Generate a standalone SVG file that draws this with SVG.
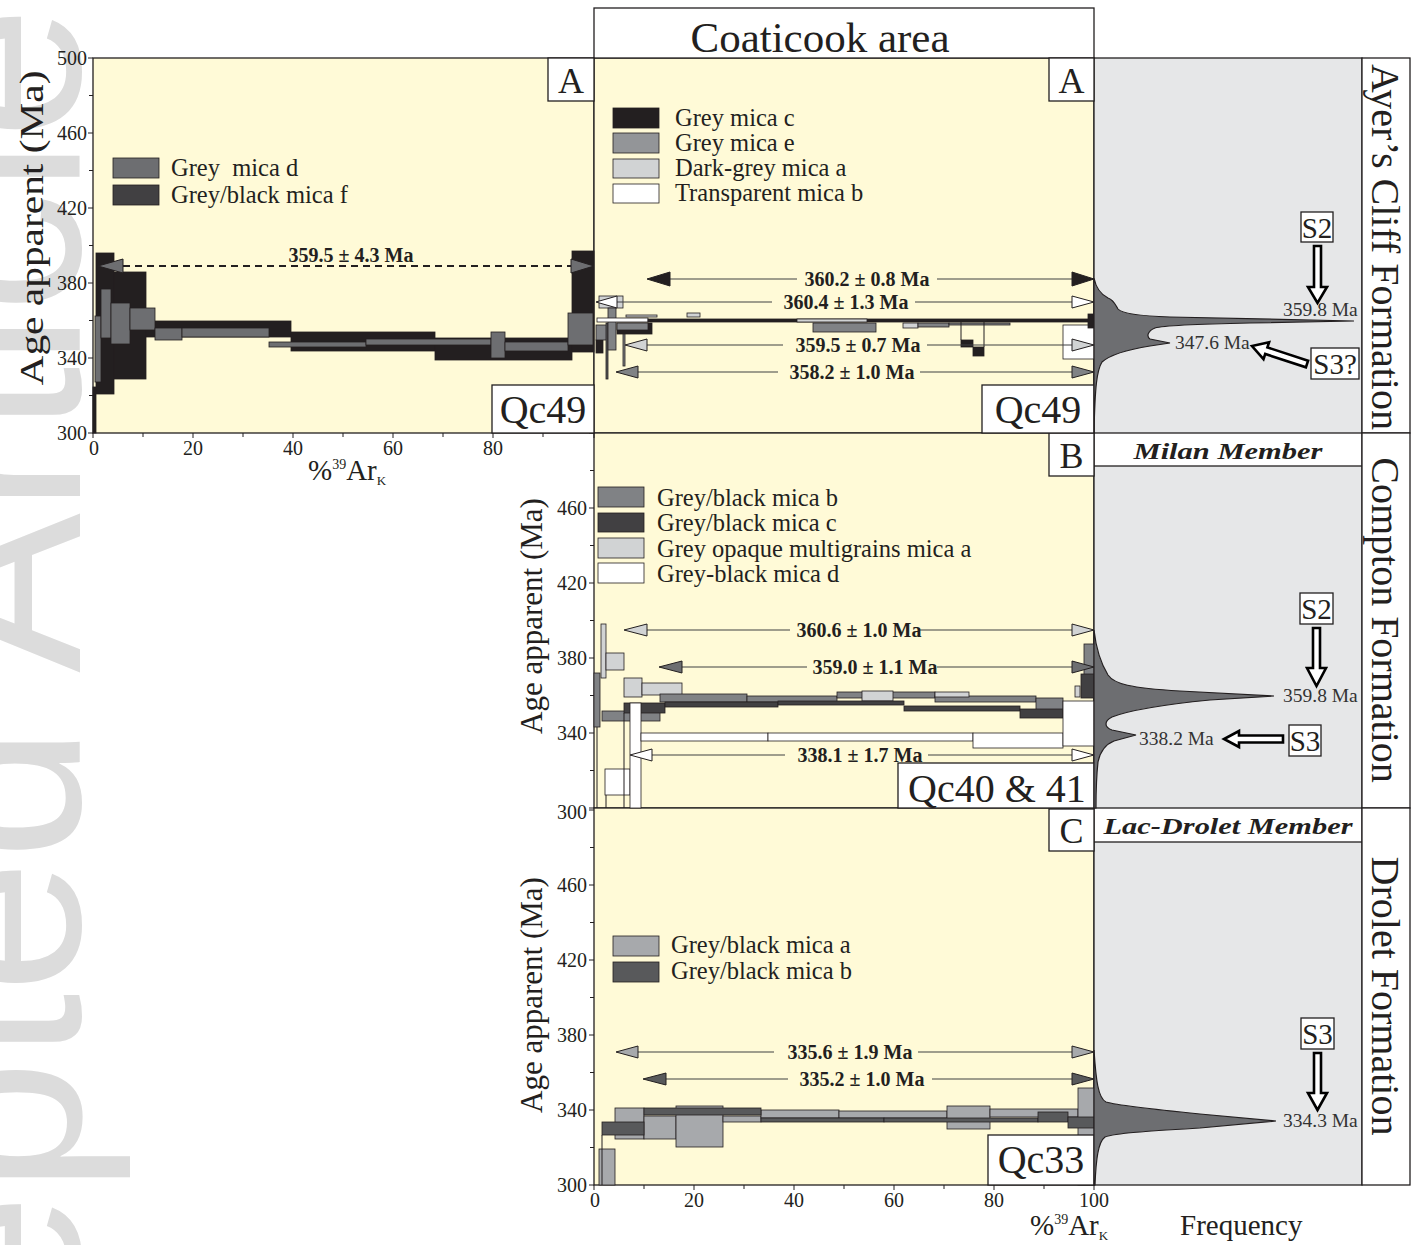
<svg xmlns="http://www.w3.org/2000/svg" width="1419" height="1245" viewBox="0 0 1419 1245">
<style>
.t{font-family:"Liberation Serif","Times New Roman",serif;fill:#231f20}
.lg{font-size:24.5px}
.ax{font-size:20px}
.axr{font-size:20px;text-anchor:end}
.axm{font-size:20px;text-anchor:middle}
.pl{font-size:20px;font-weight:bold;text-anchor:middle}
.big{font-size:40px;text-anchor:middle}
.let{font-size:36px;text-anchor:middle}
.fm{font-size:40px;text-anchor:middle}
.mem{font-size:23px;font-weight:bold;font-style:italic;text-anchor:middle}
.pk{font-size:19.5px;fill:#333}
.sb{font-size:29px;text-anchor:middle}
.frame{fill:none;stroke:#231f20;stroke-width:1.3}
.bg{fill:#fffad7;stroke:#231f20;stroke-width:1.3}
.wbox{fill:#fff;stroke:#231f20;stroke-width:1.3}
.bar rect{stroke:#231f20;stroke-width:0.8}
.k{fill:#231f20}.d4{fill:#414042}.g6{fill:#6d6e71}.g8{fill:#808285}.g9{fill:#939598}.g5{fill:#58595b}.ga{fill:#a7a9ac}.gl{fill:#d1d3d4}.w{fill:#fff}
.ln{stroke:#414042;stroke-width:1.2;fill:none}
.hd{stroke:#231f20;stroke-width:1}
.tick{stroke:#231f20;stroke-width:1}
.curve{fill:#6d6e71;stroke:#231f20;stroke-width:1.2}
.harrow{fill:#fff;stroke:#000;stroke-width:2.6;stroke-linejoin:miter}
</style>

<!-- watermark -->
<text transform="translate(80,1727) rotate(-90)" style="font-family:'Liberation Sans',Arial,sans-serif;font-size:240px;fill:#dcdcdc">Accepted Article</text>

<!-- frames / backgrounds -->
<g id="frames">
<rect class="bg" x="93" y="58" width="501" height="375"/>
<rect class="bg" x="594" y="58" width="500" height="375"/>
<rect class="bg" x="594" y="433" width="500" height="375"/>
<rect class="bg" x="594" y="808" width="500" height="377"/>
<rect x="1094" y="58" width="268" height="1127" fill="#e6e7e8" stroke="#231f20" stroke-width="1.3"/>
<rect class="wbox" x="1094" y="433" width="268" height="33"/>
<rect class="wbox" x="1094" y="808" width="268" height="34"/>
<rect class="wbox" x="1362" y="58" width="48" height="375"/>
<rect class="wbox" x="1362" y="433" width="48" height="375"/>
<rect class="wbox" x="1362" y="808" width="48" height="377"/>
<rect class="wbox" x="594" y="8" width="500" height="50"/>
</g>

<g id="header"><text class="t" x="820" y="52" style="font-size:43px;text-anchor:middle">Coaticook area</text></g>

<!-- axes ticks -->
<g id="axes">
<path class="tick" d="M93,58h-5M93,95.5h-4M93,133h-5M93,170.5h-4M93,208h-5M93,245.5h-4M93,283h-5M93,320.5h-4M93,358h-5M93,395.5h-4M93,433h-5"/>
<path class="tick" d="M93,433v5M143,433v4M193,433v5M243,433v4M293,433v5M343,433v4M393,433v5M443,433v4M493,433v5M543,433v4M594,433v5"/>
<path class="tick" d="M594,433h-5M594,470.5h-4M594,508h-5M594,545.5h-4M594,583h-5M594,620.5h-4M594,658h-5M594,695.5h-4M594,733h-5M594,770.5h-4M594,808h-5"/>
<path class="tick" d="M594,810h-5M594,847.5h-4M594,885h-5M594,922.5h-4M594,960h-5M594,997.5h-4M594,1035h-5M594,1072.5h-4M594,1110h-5M594,1147.5h-4M594,1185h-5"/>
<path class="tick" d="M594,1185v5M644,1185v4M694,1185v5M744,1185v4M794,1185v5M844,1185v4M894,1185v5M944,1185v4M994,1185v5M1044,1185v4M1094,1185v5"/>
<g class="t">
<text class="axr" x="87" y="65">500</text><text class="axr" x="87" y="140">460</text><text class="axr" x="87" y="215">420</text><text class="axr" x="87" y="290">380</text><text class="axr" x="87" y="365">340</text><text class="axr" x="87" y="440">300</text>
<text class="axm" x="94" y="455">0</text><text class="axm" x="193" y="455">20</text><text class="axm" x="293" y="455">40</text><text class="axm" x="393" y="455">60</text><text class="axm" x="493" y="455">80</text>
<text class="axr" x="587" y="515">460</text><text class="axr" x="587" y="590">420</text><text class="axr" x="587" y="665">380</text><text class="axr" x="587" y="740">340</text><text class="axr" x="587" y="819">300</text>
<text class="axr" x="587" y="892">460</text><text class="axr" x="587" y="967">420</text><text class="axr" x="587" y="1042">380</text><text class="axr" x="587" y="1117">340</text><text class="axr" x="587" y="1192">300</text>
<text class="axm" x="595" y="1207">0</text><text class="axm" x="694" y="1207">20</text><text class="axm" x="794" y="1207">40</text><text class="axm" x="894" y="1207">60</text><text class="axm" x="994" y="1207">80</text><text class="axm" x="1094" y="1207">100</text>
<text transform="translate(43,228) rotate(-90)" style="font-size:34px;text-anchor:middle" textLength="315" lengthAdjust="spacingAndGlyphs">Age apparent (Ma)</text>
<text transform="translate(542,616) rotate(-90)" style="font-size:31px;text-anchor:middle">Age apparent (Ma)</text>
<text transform="translate(542,995) rotate(-90)" style="font-size:31px;text-anchor:middle">Age apparent (Ma)</text>
<text x="308" y="480" style="font-size:29px">%<tspan dy="-11" style="font-size:14px">39</tspan><tspan dy="11">Ar</tspan><tspan dy="5" style="font-size:13px">K</tspan></text>
<text x="1030" y="1235" style="font-size:29px">%<tspan dy="-11" style="font-size:14px">39</tspan><tspan dy="11">Ar</tspan><tspan dy="5" style="font-size:13px">K</tspan></text>
<text x="1180" y="1235" style="font-size:29px">Frequency</text>
</g>
</g>

<!-- left panel A data -->
<g id="data-left-A" class="bar">
<rect class="k" x="93" y="387" width="3" height="46"/>
<rect class="k" x="96" y="253" width="18" height="141"/>
<rect class="k" x="114" y="272" width="32" height="107"/>
<rect class="k" x="146" y="321" width="145" height="16"/>
<rect class="k" x="291" y="332" width="144" height="19"/>
<rect class="k" x="435" y="338" width="137" height="22"/>
<rect class="k" x="572" y="251" width="22" height="101"/>
<rect class="g6" x="95" y="316" width="6" height="66"/>
<rect class="g6" x="101" y="289" width="10" height="49"/>
<rect class="g6" x="111" y="303" width="19" height="41"/>
<rect class="g6" x="130" y="308" width="25" height="22"/>
<rect class="g6" x="155" y="328" width="27" height="12"/>
<rect class="g6" x="182" y="328" width="87" height="9"/>
<rect class="g6" x="269" y="342" width="97" height="5"/>
<rect class="g6" x="366" y="339" width="125" height="6"/>
<rect class="g6" x="491" y="332" width="14" height="26"/>
<rect class="g6" x="505" y="342" width="63" height="9"/>
<rect class="g6" x="568" y="313" width="25" height="32"/>
</g>

<!-- mid panel A data -->
<g id="data-mid-A" class="bar">
<rect class="k" x="596" y="340" width="7" height="13"/>
<rect class="g8" x="596" y="325" width="11" height="15"/>
<rect class="gl" x="599" y="296" width="24" height="12"/>
<rect class="g5" x="606" y="323" width="2" height="56"/>
<rect class="g8" x="608" y="308" width="8" height="42"/>
<rect class="g8" x="623" y="330" width="2" height="36"/>
<rect class="k" x="617" y="323" width="35" height="11"/>
<rect class="g8" x="617" y="323" width="31" height="7"/>
<rect class="w" x="597" y="318" width="51" height="4"/>
<rect class="gl" x="626" y="315" width="31" height="2"/>
<rect class="gl" x="687" y="313" width="13" height="4"/>
<rect class="k" x="648" y="319" width="446" height="3"/>
<rect class="gl" x="797" y="319" width="70" height="3"/>
<rect class="g8" x="813" y="323" width="63" height="9"/>
<rect class="gl" x="903" y="323" width="15" height="5"/>
<rect class="g8" x="918" y="323" width="31" height="4"/>
<rect class="g8" x="949" y="323" width="61" height="2"/>
<rect class="k" x="961" y="340" width="12" height="7"/>
<rect class="k" x="973" y="347" width="11" height="9"/>
<rect class="w" x="1063" y="325" width="31" height="34"/>
<rect class="k" x="1088" y="314" width="6" height="14"/>
<path class="tick" d="M961,322V340M984,322V347"/>
</g>

<!-- panel B data -->
<g id="data-B" class="bar">
<rect class="g8" x="594" y="673" width="6" height="54"/>
<rect class="gl" x="601" y="624" width="5" height="54"/>
<rect class="gl" x="606" y="653" width="18" height="17"/>
<rect class="gl" x="624" y="678" width="18" height="19"/>
<rect class="gl" x="642" y="683" width="40" height="12"/>
<rect class="g8" x="602" y="711" width="58" height="10"/>
<rect class="g8" x="660" y="694" width="87" height="8"/>
<rect class="g8" x="747" y="696" width="90" height="6"/>
<rect class="g8" x="837" y="692" width="98" height="6"/>
<rect class="gl" x="862" y="691" width="31" height="10"/>
<rect class="g8" x="935" y="696" width="101" height="6"/>
<rect class="gl" x="935" y="692" width="34" height="5"/>
<rect class="g8" x="1036" y="698" width="27" height="12"/>
<rect class="gl" x="1075" y="686" width="5" height="11"/>
<rect class="g8" x="1084" y="644" width="10" height="31"/>
<rect class="d4" x="624" y="703" width="41" height="10"/>
<rect class="d4" x="665" y="702" width="113" height="5"/>
<rect class="d4" x="778" y="701" width="126" height="4"/>
<rect class="d4" x="904" y="706" width="116" height="5"/>
<rect class="d4" x="1020" y="709" width="43" height="9"/>
<rect class="d4" x="1081" y="674" width="13" height="24"/>
<rect class="w" x="605" y="769" width="25" height="26"/>
<rect class="w" x="630" y="703" width="11" height="105"/>
<rect class="w" x="641" y="733" width="127" height="8"/>
<rect class="w" x="768" y="733" width="205" height="8"/>
<rect class="w" x="973" y="733" width="90" height="15"/>
<rect class="w" x="1063" y="701" width="31" height="45"/>
<path class="tick" d="M597,727V808M624,713V808M606,795V808"/>
</g>

<!-- panel C data -->
<g id="data-C" class="bar">
<rect class="ga" x="599" y="1149" width="16" height="36"/>
<rect class="ga" x="615" y="1108" width="29" height="31"/>
<rect class="ga" x="644" y="1116" width="32" height="23"/>
<rect class="ga" x="676" y="1106" width="47" height="41"/>
<rect class="ga" x="723" y="1116" width="38" height="6"/>
<rect class="ga" x="761" y="1110" width="78" height="8"/>
<rect class="ga" x="839" y="1111" width="108" height="7"/>
<rect class="ga" x="947" y="1106" width="43" height="23"/>
<rect class="ga" x="990" y="1109" width="88" height="8"/>
<rect class="ga" x="1078" y="1088" width="16" height="97"/>
<rect class="g5" x="602" y="1122" width="42" height="13"/>
<rect class="g5" x="644" y="1108" width="117" height="7"/>
<rect class="g5" x="761" y="1118" width="123" height="4"/>
<rect class="g5" x="884" y="1118" width="154" height="4"/>
<rect class="g5" x="1038" y="1112" width="30" height="10"/>
<rect class="g5" x="1068" y="1117" width="26" height="11"/>
<path class="tick" d="M602,1135V1185"/>
</g>

<!-- plateau arrows -->
<g id="connectors">
<path d="M123,266H571" stroke="#231f20" stroke-width="2" stroke-dasharray="7,5" fill="none"/>
<polygon class="hd g6" points="98,266 123,259 123,273"/>
<polygon class="hd g6" points="594,266 571,259 571,273"/>

<path class="ln" d="M670,279H797M937,279H1072"/>
<polygon class="hd k" points="647,279 670,272 670,286"/><polygon class="hd k" points="1094,279 1072,272 1072,286"/>
<path class="ln" d="M617,302H772M915,302H1072"/>
<polygon class="hd w" points="596,302 617,296 617,308"/><polygon class="hd w" points="1094,302 1072,296 1072,308"/>
<path class="ln" d="M647,345H783M927,345H1072"/>
<polygon class="hd gl" points="625,345 647,339 647,351"/><polygon class="hd gl" points="1094,345 1072,339 1072,351"/>
<path class="ln" d="M638,372H778M920,372H1072"/>
<polygon class="hd g8" points="616,372 638,366 638,378"/><polygon class="hd g8" points="1094,372 1072,366 1072,378"/>

<path class="ln" d="M647,630H790M920,630H1072"/>
<polygon class="hd gl" points="624,630 647,624 647,636"/><polygon class="hd gl" points="1094,630 1072,624 1072,636"/>
<path class="ln" d="M682,667H807M937,667H1072"/>
<polygon class="hd g6" points="659,667 682,661 682,673"/><polygon class="hd g6" points="1094,667 1072,661 1072,673"/>
<path class="ln" d="M652,755H785M928,755H1072"/>
<polygon class="hd w" points="630,755 652,749 652,761"/><polygon class="hd w" points="1094,755 1072,749 1072,761"/>

<path class="ln" d="M638,1052H774M918,1052H1072"/>
<polygon class="hd ga" points="616,1052 638,1046 638,1058"/><polygon class="hd ga" points="1094,1052 1072,1046 1072,1058"/>
<path class="ln" d="M666,1079H788M932,1079H1072"/>
<polygon class="hd g5" points="643,1079 666,1073 666,1085"/><polygon class="hd g5" points="1094,1079 1072,1073 1072,1085"/>
</g>

<g id="plateau-labels" class="t">
<text class="pl" x="351" y="262">359.5 ± 4.3 Ma</text>
<text class="pl" x="867" y="286">360.2 ± 0.8 Ma</text>
<text class="pl" x="846" y="309">360.4 ± 1.3 Ma</text>
<text class="pl" x="858" y="352">359.5 ± 0.7 Ma</text>
<text class="pl" x="852" y="379">358.2 ± 1.0 Ma</text>
<text class="pl" x="859" y="637">360.6 ± 1.0 Ma</text>
<text class="pl" x="875" y="674">359.0 ± 1.1 Ma</text>
<text class="pl" x="860" y="762">338.1 ± 1.7 Ma</text>
<text class="pl" x="850" y="1059">335.6 ± 1.9 Ma</text>
<text class="pl" x="862" y="1086">335.2 ± 1.0 Ma</text>
</g>

<!-- legends -->
<g id="legend-left-A">
<rect class="g6" x="113" y="158" width="46" height="20" stroke="#231f20" stroke-width="0.8"/>
<rect class="d4" x="113" y="185" width="46" height="20" stroke="#231f20" stroke-width="0.8"/>
<text class="t lg" x="171" y="176" xml:space="preserve">Grey  mica d</text>
<text class="t lg" x="171" y="203">Grey/black mica f</text>
</g>
<g id="legend-mid-A">
<rect class="k" x="613" y="108" width="46" height="20" stroke="#231f20" stroke-width="0.8"/>
<rect class="g9" x="613" y="133" width="46" height="20" stroke="#231f20" stroke-width="0.8"/>
<rect class="gl" x="613" y="159" width="46" height="19" stroke="#231f20" stroke-width="0.8"/>
<rect class="w" x="613" y="184" width="46" height="19" stroke="#231f20" stroke-width="0.8"/>
<text class="t lg" x="675" y="126">Grey mica c</text>
<text class="t lg" x="675" y="151">Grey mica e</text>
<text class="t lg" x="675" y="176">Dark-grey mica a</text>
<text class="t lg" x="675" y="201">Transparent mica b</text>
</g>
<g id="legend-B">
<rect class="g8" x="598" y="487" width="46" height="20" stroke="#231f20" stroke-width="0.8"/>
<rect class="d4" x="598" y="513" width="46" height="19" stroke="#231f20" stroke-width="0.8"/>
<rect class="gl" x="598" y="538" width="46" height="20" stroke="#231f20" stroke-width="0.8"/>
<rect class="w" x="598" y="563" width="46" height="20" stroke="#231f20" stroke-width="0.8"/>
<text class="t lg" x="657" y="506">Grey/black mica b</text>
<text class="t lg" x="657" y="531">Grey/black mica c</text>
<text class="t lg" x="657" y="557">Grey opaque multigrains mica a</text>
<text class="t lg" x="657" y="582">Grey-black mica d</text>
</g>
<g id="legend-C">
<rect class="ga" x="613" y="936" width="46" height="20" stroke="#231f20" stroke-width="0.8"/>
<rect class="g5" x="613" y="962" width="46" height="20" stroke="#231f20" stroke-width="0.8"/>
<text class="t lg" x="671" y="953">Grey/black mica a</text>
<text class="t lg" x="671" y="979">Grey/black mica b</text>
</g>

<!-- panel labels -->
<g id="label-A-left"><rect class="wbox" x="548" y="58" width="46" height="43"/><text class="t let" x="571" y="93">A</text></g>
<g id="label-A-mid"><rect class="wbox" x="1049" y="58" width="45" height="43"/><text class="t let" x="1071.5" y="93">A</text></g>
<g id="label-B"><rect class="wbox" x="1049" y="433" width="45" height="43"/><text class="t let" x="1071.5" y="468">B</text></g>
<g id="label-C"><rect class="wbox" x="1049" y="809" width="45" height="42"/><text class="t let" x="1071.5" y="843">C</text></g>
<g id="sample-Qc49-left"><rect class="wbox" x="492" y="385" width="102" height="48"/><text class="t big" x="543" y="423">Qc49</text></g>
<g id="sample-Qc49-mid"><rect class="wbox" x="982" y="385" width="112" height="48"/><text class="t big" x="1038" y="423">Qc49</text></g>
<g id="sample-Qc40"><rect class="wbox" x="898" y="763" width="196" height="45"/><text class="t big" x="997" y="802">Qc40 &amp; 41</text></g>
<g id="sample-Qc33"><rect class="wbox" x="988" y="1135" width="106" height="50"/><text class="t big" x="1041" y="1173">Qc33</text></g>

<!-- frequency curves -->
<g id="freq-A">
<path class="curve" d="M1094,278 C1096,288 1100,294 1108,298 C1114,300 1116,306 1118,309 C1122,314 1140,316 1170,317 L1354,321 L1250,323 C1200,324 1165,325 1155,328 C1148,331 1146,336 1150,339 L1170,343 L1150,346 C1125,350 1110,355 1102,362 C1097,370 1095,385 1094,433 Z"/>
<text class="t pk" x="1283" y="316">359.8 Ma</text>
<text class="t pk" x="1175" y="349">347.6 Ma</text>
<rect class="wbox" x="1301" y="212" width="32" height="30"/><text class="t sb" x="1317" y="238">S2</text>
<polygon class="harrow" points="1314,246 1321,246 1321,287 1327,287 1317.5,303 1308,287 1314,287"/>
<rect class="wbox" x="1311" y="348" width="48" height="31"/><text class="t sb" x="1335" y="374">S3?</text>
<polygon class="harrow" points="1308.1,360.7 1267.4,347.4 1269.1,342.2 1252,346 1263.5,359.2 1265.2,354 1305.9,367.3"/>
</g>
<g id="freq-B">
<path class="curve" d="M1094,630 C1096,648 1100,662 1108,675 C1114,684 1130,688 1180,691 L1274,696 L1210,700 C1160,705 1130,710 1112,717 C1104,721 1104,727 1112,730 L1136,735 L1114,741 C1104,745 1100,752 1098,762 C1096,780 1096,795 1096,808 L1094,808 Z"/>
<text class="t pk" x="1283" y="702">359.8 Ma</text>
<text class="t pk" x="1139" y="745">338.2 Ma</text>
<rect class="wbox" x="1300" y="593" width="33" height="31"/><text class="t sb" x="1316.5" y="619">S2</text>
<polygon class="harrow" points="1313,628 1320,628 1320,668 1326,668 1316.5,686 1307,668 1313,668"/>
<rect class="wbox" x="1289" y="725" width="32" height="31"/><text class="t sb" x="1305" y="751">S3</text>
<polygon class="harrow" points="1283,735.5 1283,742.5 1239,742.5 1239,747 1224,739 1239,731 1239,735.5"/>
</g>
<g id="freq-C">
<path class="curve" d="M1094,1050 C1096,1080 1098,1098 1106,1102 C1120,1106 1160,1110 1200,1114 L1276,1121 L1200,1128 C1150,1131 1115,1133 1105,1137 C1098,1142 1096,1160 1095,1185 L1094,1185 Z"/>
<text class="t pk" x="1283" y="1127">334.3 Ma</text>
<rect class="wbox" x="1301" y="1018" width="33" height="31"/><text class="t sb" x="1317.5" y="1044">S3</text>
<polygon class="harrow" points="1314,1053 1321,1053 1321,1093 1327,1093 1317.5,1110 1308,1093 1314,1093"/>
</g>

<!-- members & formations -->
<g id="member-milan"><text class="t mem" x="1228" y="459" textLength="189" lengthAdjust="spacingAndGlyphs">Milan Member</text></g>
<g id="member-lacdrolet"><text class="t mem" x="1228" y="834" textLength="249" lengthAdjust="spacingAndGlyphs">Lac-Drolet Member</text></g>
<g id="formation-ayers"><text class="t fm" transform="translate(1372,247) rotate(90)">Ayer’s Cliff Formation</text></g>
<g id="formation-compton"><text class="t fm" transform="translate(1372,620) rotate(90)">Compton Formation</text></g>
<g id="formation-drolet"><text class="t fm" transform="translate(1372,996) rotate(90)">Drolet Formation</text></g>
</svg>
